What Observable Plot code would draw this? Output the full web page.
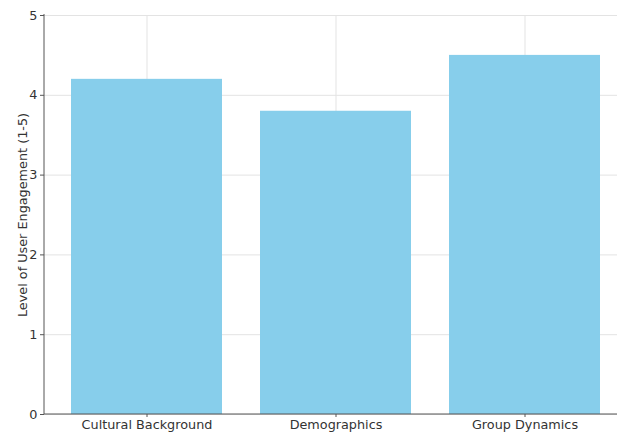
<!DOCTYPE html>
<html>
<head>
<meta charset="utf-8">
<script src="https://cdn.jsdelivr.net/npm/d3@7"></script>
<script src="https://cdn.jsdelivr.net/npm/@observablehq/plot@0.6"></script>
<style>
  html, body { margin: 0; padding: 0; background: #fff; overflow: hidden; }
  #chart svg { display: block; }
</style>
</head>
<body>
<div id="chart"></div>
<script>
const categories = ["Cultural Background", "Demographics", "Group Dynamics"];
const engagement = [4.2, 3.8, 4.5];
const yTicks = [0, 1, 2, 3, 4, 5];
const yLabel = "Level of User Engagement (1-5)";

const data = categories.map((c, i) => ({category: c, value: engagement[i]}));

const spines = (index, scales, values, dims) => {
  const g = d3.create("svg:g");
  const x0 = dims.marginLeft;
  const y0 = scales.y(0), y5 = scales.y(5);
  g.append("line").attr("x1", x0).attr("x2", x0).attr("y1", y0).attr("y2", y5 - 1)
    .attr("stroke", "#555").attr("stroke-width", 1);
  g.append("line").attr("x1", x0).attr("x2", dims.width).attr("y1", y0).attr("y2", y0)
    .attr("stroke", "#555").attr("stroke-width", 1);
  return g.node();
};

const plot = Plot.plot({
  width: 617,
  height: 433,
  marginLeft: 44,
  marginRight: 0,
  marginTop: 15,
  marginBottom: 19,
  style: {fontFamily: "DejaVu Sans", fontSize: "12.8px", color: "#333", background: "#fff"},
  x: {domain: categories, range: [44, 628], paddingInner: 0.2, paddingOuter: 0.141},
  y: {domain: [0, 5]},
  marks: [
    Plot.gridY(yTicks, {stroke: "#e3e3e3", strokeOpacity: 1}),
    Plot.gridX(categories, {stroke: "#e3e3e3", strokeOpacity: 1}),
    Plot.barY(data, {x: "category", y: "value", fill: "#87CEEB"}),
    Plot.axisY(yTicks, {tickSize: 4, tickPadding: 3, stroke: "#555", tickFormat: d3.format("d"), label: yLabel, labelAnchor: "center", labelOffset: 27, labelArrow: "none"}),
    Plot.axisX(categories, {tickSize: 3, tickPadding: 2, stroke: "#555", label: null}),
    spines
  ]
});
document.getElementById("chart").appendChild(plot);
</script>
</body>
</html>
